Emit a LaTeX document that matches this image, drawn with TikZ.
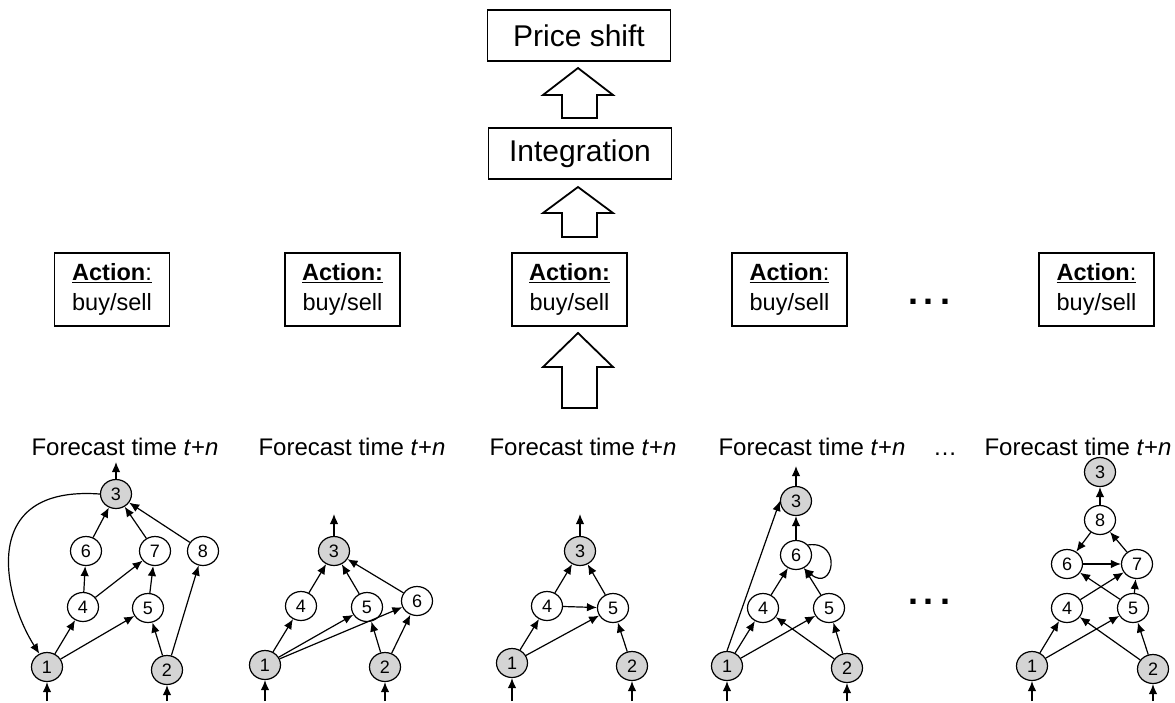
\documentclass[tikz,border=0pt]{standalone}
\usepackage{fontspec}
\setmainfont{Liberation Sans}
\usetikzlibrary{arrows.meta,shapes.geometric}
\definecolor{nodegray}{RGB}{212,212,212}
\begin{document}
\begin{tikzpicture}[x=1pt,y=-1pt,
  box/.style={draw, line width=1.3pt, inner sep=0pt},
  bigbox/.style={box, minimum width=183pt, minimum height=51pt, font=\fontsize{30}{34}\selectfont},
  actbox/.style={box, minimum width=115pt, minimum height=73pt, align=center, font=\fontsize{23.5}{30}\selectfont},
  fc/.style={font=\fontsize{24}{28}\selectfont, anchor=base},
  nd/.style={ellipse, draw, line width=1.2pt, minimum width=31pt, minimum height=29pt, inner sep=0pt, font=\fontsize{18}{18}\selectfont, fill=white},
  gnd/.style={nd, fill=nodegray},
  edge/.style={line width=1.2pt, -{Latex[length=10pt,width=8.5pt]}},
  hollow/.style={draw, line width=1.8pt, line join=miter},
  bigdots/.style={font=\fontsize{36}{40}\selectfont\bfseries},
]
\useasboundingbox (0,0) rectangle (1175,702);

% top boxes
\node[bigbox] (ps) at (579,35.5) {Price shift};
\node[bigbox] (int) at (580,153.5) {Integration};
\draw[hollow] (578,68) -- (613,95) -- (597,95) -- (597,118) -- (562,118) -- (562,95) -- (543,95) -- cycle;
\draw[hollow] (578,187) -- (613,213) -- (597,213) -- (597,237) -- (562,237) -- (562,213) -- (543,213) -- cycle;
\draw[hollow] (578,333) -- (613,367) -- (597,367) -- (597,408) -- (562,408) -- (562,367) -- (543,367) -- cycle;

% action boxes
\node[actbox] (act1) at (112,289.5) {\underline{\textbf{Action}:}\\buy/sell};
\node[actbox] (act2) at (342.5,289.5) {\underline{\textbf{Action:}}\\buy/sell};
\node[actbox] (act3) at (569.5,289.5) {\underline{\textbf{Action:}}\\buy/sell};
\node[actbox] (act4) at (789.5,289.5) {\underline{\textbf{Action}:}\\buy/sell};
\node[actbox] (act5) at (1096.5,289.5) {\underline{\textbf{Action}:}\\buy/sell};
\node[bigdots] (dots1) at (929,302) {.\hspace{6pt}.\hspace{6pt}.};

% forecast labels
\node[fc] (fc1) at (125,455) {Forecast time \textit{t}+\textit{n}};
\node[fc] (fc2) at (352,455) {Forecast time \textit{t}+\textit{n}};
\node[fc] (fc3) at (583,455) {Forecast time \textit{t}+\textit{n}};
\node[fc] (fc4) at (812,455) {Forecast time \textit{t}+\textit{n}};
\node[fc] (fc5) at (1078,455) {Forecast time \textit{t}+\textit{n}};
\node[fc] (dots2) at (945,455) {\dots};
\node[bigdots] (dots3) at (929,602) {.\hspace{6pt}.\hspace{6pt}.};

% ---------- network 1
\node[gnd] (n1a1) at (47,667) {1};
\node[gnd] (n1a2) at (167,670) {2};
\node[gnd] (n1a3) at (116,494) {3};
\node[nd] (n1a4) at (83,607) {4};
\node[nd] (n1a5) at (148,608) {5};
\node[nd] (n1a6) at (86,551) {6};
\node[nd] (n1a7) at (155,551) {7};
\node[nd] (n1a8) at (203,551) {8};
\coordinate (n1i1) at (47,701);
\coordinate (n1i2) at (167,701);
\coordinate (n1o) at (116,462);
\draw[edge] (n1i1) -- (n1a1);
\draw[edge] (n1i2) -- (n1a2);
\draw[edge] (n1a3) -- (n1o);
\draw[edge] (n1a1) -- (n1a4);
\draw[edge] (n1a1) -- (n1a5);
\draw[edge] (n1a4) -- (n1a6);
\draw[edge] (n1a4) -- (n1a7);
\draw[edge] (n1a5) -- (n1a7);
\draw[edge] (n1a2) -- (n1a5);
\draw[edge] (n1a2) -- (n1a8);
\draw[edge] (n1a6) -- (n1a3);
\draw[edge] (n1a7) -- (n1a3);
\draw[edge] (n1a8) -- (n1a3);
\draw[edge] (n1a3.west) .. controls (-25,485) and (5,600) .. (n1a1.120);

% ---------- network 2
\node[gnd] (n2a1) at (265,665) {1};
\node[gnd] (n2a2) at (385,667) {2};
\node[gnd] (n2a3) at (334,551) {3};
\node[nd] (n2a4) at (301,606) {4};
\node[nd] (n2a5) at (367,607) {5};
\node[nd] (n2a6) at (417,601) {6};
\coordinate (n2i1) at (265,701);
\coordinate (n2i2) at (385,701);
\coordinate (n2o) at (334,514);
\draw[edge] (n2i1) -- (n2a1);
\draw[edge] (n2i2) -- (n2a2);
\draw[edge] (n2a3) -- (n2o);
\draw[edge] (n2a1) -- (n2a4);
\draw[edge] (n2a1) -- (n2a5);
\draw[edge] (n2a1) -- (n2a6);
\draw[edge] (n2a2) -- (n2a5);
\draw[edge] (n2a2) -- (n2a6);
\draw[edge] (n2a4) -- (n2a3);
\draw[edge] (n2a5) -- (n2a3);
\draw[edge] (n2a6) -- (n2a3);

% ---------- network 3
\node[gnd] (n3a1) at (512,663) {1};
\node[gnd] (n3a2) at (632,666) {2};
\node[gnd] (n3a3) at (580,551) {3};
\node[nd] (n3a4) at (547,606) {4};
\node[nd] (n3a5) at (613,608) {5};
\coordinate (n3i1) at (512,701);
\coordinate (n3i2) at (632,701);
\coordinate (n3o) at (580,514);
\draw[edge] (n3i1) -- (n3a1);
\draw[edge] (n3i2) -- (n3a2);
\draw[edge] (n3a3) -- (n3o);
\draw[edge] (n3a1) -- (n3a4);
\draw[edge] (n3a1) -- (n3a5);
\draw[edge] (n3a4) -- (n3a5);
\draw[edge] (n3a2) -- (n3a5);
\draw[edge] (n3a4) -- (n3a3);
\draw[edge] (n3a5) -- (n3a3);

% ---------- network 4
\node[gnd] (n4a1) at (727,666) {1};
\node[gnd] (n4a2) at (847,668) {2};
\node[gnd] (n4a3) at (796,501) {3};
\node[nd] (n4a4) at (763,608) {4};
\node[nd] (n4a5) at (829,608) {5};
\node[nd] (n4a6) at (796,555) {6};
\coordinate (n4i1) at (727,701);
\coordinate (n4i2) at (847,701);
\coordinate (n4o) at (796,466);
\draw[edge] (n4i1) -- (n4a1);
\draw[edge] (n4i2) -- (n4a2);
\draw[edge] (n4a3) -- (n4o);
\draw[edge] (n4a1.north) -- (n4a3.west);
\draw[edge] (n4a1) -- (n4a4);
\draw[edge] (n4a1) -- (n4a5);
\draw[edge] (n4a2) -- (n4a4);
\draw[edge] (n4a2) -- (n4a5);
\draw[edge] (n4a4) -- (n4a6);
\draw[edge] (n4a5) -- (n4a6);
\draw[edge] (n4a6) -- (n4a3);
\draw[edge] (n4a6.40) .. controls +(35,-5) and +(30,25) .. (n4a6.-60);

% ---------- network 5
\node[gnd] (n5a1) at (1032,666) {1};
\node[gnd] (n5a2) at (1153,669) {2};
\node[gnd] (n5a3) at (1100,472) {3};
\node[nd] (n5a4) at (1067,608) {4};
\node[nd] (n5a5) at (1133,608) {5};
\node[nd] (n5a6) at (1067,564) {6};
\node[nd] (n5a7) at (1137,564) {7};
\node[nd] (n5a8) at (1100,520) {8};
\coordinate (n5i1) at (1032,701);
\coordinate (n5i2) at (1153,701);
\draw[edge] (n5i1) -- (n5a1);
\draw[edge] (n5i2) -- (n5a2);
\draw[edge] (n5a1) -- (n5a4);
\draw[edge] (n5a1) -- (n5a5);
\draw[edge] (n5a2) -- (n5a4);
\draw[edge] (n5a2) -- (n5a5);
\draw[edge] (n5a4) -- (n5a7);
\draw[edge] (n5a5) -- (n5a6);
\draw[edge] (n5a5) -- (n5a7);
\draw[edge] (n5a6) -- (n5a7);
\draw[edge] (n5a7) -- (n5a8);
\draw[edge] (n5a8) -- (n5a6);
\draw[edge] (n5a8) -- (n5a3);
\end{tikzpicture}
\end{document}
